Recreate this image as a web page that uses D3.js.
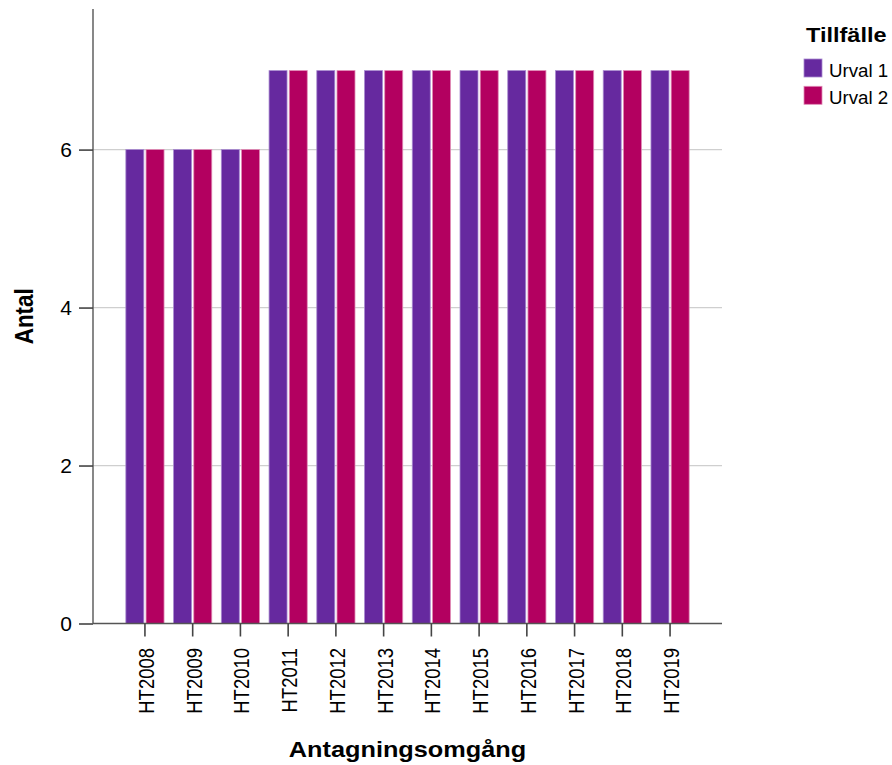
<!DOCTYPE html>
<html>
<head>
<meta charset="utf-8">
<script src="https://cdn.jsdelivr.net/npm/d3@7"></script>
<style>
  html, body { margin: 0; padding: 0; background: #fff; }
  svg { display: block; }
  text { font-family: Arial, "Liberation Sans", sans-serif; fill: #000; }
</style>
</head>
<body>
<script>
const categories = ["HT2008","HT2009","HT2010","HT2011","HT2012","HT2013","HT2014","HT2015","HT2016","HT2017","HT2018","HT2019"];
const seriesNames = ["Urval 1", "Urval 2"];
const urval1 = [6,6,6,7,7,7,7,7,7,7,7,7];
const urval2 = [6,6,6,7,7,7,7,7,7,7,7,7];
const yTicks = [0, 2, 4, 6];
const colors = ["#66299f", "#b30060"];
const strokes = ["#a98bd0", "#e08ab5"];

const W = 892, H = 765;
const SX = 1.15; // horizontal stretch of text in reference
const pLeft = 93, pRight = 722, pTop = 9, pBottom = 623.5;
const yMax = 7.78;

const svg = d3.select("body").append("svg").attr("width", W).attr("height", H);

const x0 = d3.scaleBand().domain(categories).range([pLeft, pRight]).paddingInner(0.2).paddingOuter(0.688);
const x1 = d3.scaleBand().domain(seriesNames).range([0, x0.bandwidth()]).paddingInner(0.11).paddingOuter(0);
const y = d3.scaleLinear().domain([0, yMax]).range([pBottom, pTop]);

// gridlines
svg.append("g").selectAll("line").data(yTicks.filter(d => d > 0)).join("line")
  .attr("x1", pLeft).attr("x2", pRight)
  .attr("y1", d => y(d)).attr("y2", d => y(d))
  .attr("stroke", "#cfcfcf").attr("stroke-width", 1.2);

// bars
const data = categories.map((c, i) => ({ cat: c, vals: [urval1[i], urval2[i]] }));
const groups = svg.append("g").selectAll("g").data(data).join("g")
  .attr("transform", d => `translate(${x0(d.cat)},0)`);
groups.selectAll("rect").data(d => d.vals.map((v, j) => ({ name: seriesNames[j], v, j })))
  .join("rect")
  .attr("x", d => x1(d.name))
  .attr("y", d => y(d.v))
  .attr("width", x1.bandwidth())
  .attr("height", d => y(0) - y(d.v))
  .attr("fill", d => colors[d.j])
  .attr("stroke", d => strokes[d.j])
  .attr("stroke-width", 0.8);

// y axis
const yAxis = svg.append("g").attr("transform", `translate(${pLeft},0)`)
  .call(d3.axisLeft(y).tickValues(yTicks).tickFormat(d3.format("d")).tickSize(14).tickSizeOuter(0));
yAxis.select(".domain").attr("stroke", "#555").attr("stroke-width", 1.4).attr("d", `M0,${pTop}V${pBottom}`);
yAxis.selectAll(".tick line").attr("stroke", "#444").attr("stroke-width", 1.6);
yAxis.selectAll(".tick text")
  .attr("x", -21 / 1.05).attr("dy", "0.36em")
  .attr("transform", `scale(1.05,1)`)
  .style("font-size", "20px").style("text-anchor", "end");

// x axis
const xAxis = svg.append("g").attr("transform", `translate(0,${pBottom})`)
  .call(d3.axisBottom(x0).tickSize(13).tickSizeOuter(0));
xAxis.select(".domain").attr("stroke", "#555").attr("stroke-width", 1.4).attr("d", `M${pLeft},0H${pRight}`);
xAxis.selectAll(".tick line").attr("stroke", "#444").attr("stroke-width", 1.6);
xAxis.selectAll(".tick text")
  .attr("x", -24.5).attr("y", 0).attr("dy", "0.42em")
  .attr("transform", `scale(${SX},1) rotate(-90)`)
  .style("font-size", "18.5px").style("text-anchor", "end");

function stretchedText(x, yy, rot, str, size, weight, anchor, sx) {
  const g = svg.append("g").attr("transform", `translate(${x},${yy}) scale(${sx || SX},1) rotate(${rot})`);
  g.append("text").text(str).style("font-size", size + "px").style("font-weight", weight)
    .style("text-anchor", anchor);
  return g;
}

// axis titles
stretchedText((pLeft + pRight) / 2, 757, 0, "Antagningsomgång", 22, "bold", "middle");
stretchedText(33, (pTop + pBottom) / 2, -90, "Antal", 22.5, "bold", "middle");

// legend
stretchedText(806, 42, 0, "Tillfälle", 21, "bold", "start", 1.12);
const legend = svg.append("g");
seriesNames.forEach((n, i) => {
  const yy = 59 + i * 27.3;
  legend.append("rect").attr("x", 804).attr("y", yy).attr("width", 18).attr("height", 18)
    .attr("fill", colors[i]).attr("stroke", strokes[i]).attr("stroke-width", 0.8);
  stretchedText(829, yy + 17.5, 0, n, 17.5, "normal", "start", 1.07);
});
</script>
</body>
</html>
